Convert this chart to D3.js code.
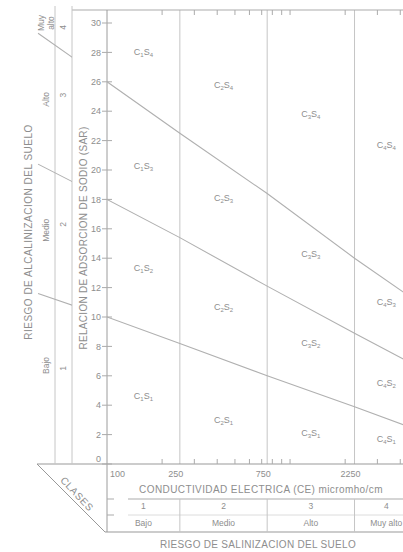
<!DOCTYPE html>
<html>
<head>
<meta charset="utf-8">
<script src="https://cdn.jsdelivr.net/npm/d3@7"></script>
<style>
  body { margin: 0; background: #fff; }
  svg { display: block; font-family: "Liberation Sans", Arial, sans-serif; }
</style>
</head>
<body>
<script>
//sodium adsorption ratio ticks (left axis)
var sarTicks = [0, 2, 4, 6, 8, 10, 12, 14, 16, 18, 20, 22, 24, 26, 28, 30];

//electrical conductivity class limits and labels (micromho/cm)
var ceBreaks = [100, 250, 750, 2250, 5000];
var ceLabels = ["100", "250", "750", "2250"];
var ceMinor = [200, 300, 400, 500, 600, 700, 800, 900, 1000, 2000, 3000, 4000];

//salinity classes (bottom table)
var salNum = ["1", "2", "3", "4"];
var salName = ["Bajo", "Medio", "Alto", "Muy alto"];

//sodium classes (left strip)
var sodNum = ["1", "2", "3", "4"];
var sodName = [["Bajo"], ["Medio"], ["Alto"], ["Muy", "alto"]];
var sodNameSar = [6.7, 15.9, 24.8, 30.0];
var sodNumSar = [6.5, 16.3, 25.1, 29.7];

//class boundary lines, SAR read at these CE values
var lineCE = [42, 100, 250, 750, 2250, 5000];
var boundS1S2 = [11.6, 10, 8.2, 6.0, 3.9, 2.3];
var boundS2S3 = [20.4, 18, 15.4, 12.1, 8.9, 6.6];
var boundS3S4 = [29.3, 26, 22.5, 18.4, 14.0, 11.0];

//zone labels C#S#: salinity class, sodium class, SAR where the label sits
var zoneC = [1, 1, 1, 1, 2, 2, 2, 2, 3, 3, 3, 3, 4, 4, 4, 4];
var zoneS = [4, 3, 2, 1, 4, 3, 2, 1, 4, 3, 2, 1, 4, 3, 2, 1];
var zoneSar = [27.8, 20.1, 13.1, 4.4, 25.6, 17.9, 10.5, 2.8, 23.6, 14.1, 8.0, 1.9, 21.5, 10.8, 5.3, 1.5];

var width = 403, height = 552;
var ink = "#8e8e8e", rule = "#ababab", faint = "#c6c6c6";

var svg = d3.select("body").append("svg")
  .attr("width", width)
  .attr("height", height);

var x = d3.scaleLog().domain([100, 5000]).range([107, 418]);
var y = d3.scaleLinear().domain([0, 30]).range([464, 23]);

var frameTop = 10, base = y(0), tableTop = 499, tableMid = 515, tableBot = 532;
var stripA = 55, stripB = 72, stripL = 37;

//clip areas: main plot and left sodium strip
var defs = svg.append("defs");
defs.append("clipPath").attr("id", "mainClip").append("rect")
  .attr("x", x(100)).attr("y", frameTop).attr("width", width - x(100)).attr("height", base - frameTop);
defs.append("clipPath").attr("id", "stripClip").append("rect")
  .attr("x", stripL).attr("y", 0).attr("width", stripB - stripL).attr("height", base);

//class limit verticals
svg.selectAll(".ceGrid")
  .data(ceBreaks.slice(1, 4))
  .enter().append("line")
  .attr("x1", function(d) { return x(d); }).attr("x2", function(d) { return x(d); })
  .attr("y1", frameTop).attr("y2", base)
  .attr("stroke", faint).attr("stroke-width", 1);

//top frame and minor log ticks
svg.append("line").attr("x1", stripB).attr("x2", width).attr("y1", frameTop).attr("y2", frameTop)
  .attr("stroke", rule);
svg.selectAll(".topTick")
  .data(ceMinor)
  .enter().append("line")
  .attr("x1", function(d) { return x(d); }).attr("x2", function(d) { return x(d); })
  .attr("y1", frameTop).attr("y2", frameTop + 5)
  .attr("stroke", rule);

//bottom axis + minor ticks
svg.append("line").attr("x1", stripL).attr("x2", width).attr("y1", base).attr("y2", base)
  .attr("stroke", "#999").attr("stroke-width", 1.2);
svg.selectAll(".botTick")
  .data(ceMinor)
  .enter().append("line")
  .attr("x1", function(d) { return x(d); }).attr("x2", function(d) { return x(d); })
  .attr("y1", base).attr("y2", base - 5)
  .attr("stroke", rule);

//left strip verticals
[stripA, stripB].forEach(function(px) {
  svg.append("line").attr("x1", px).attr("x2", px).attr("y1", 6).attr("y2", base)
    .attr("stroke", faint);
});

//SAR axis
svg.append("line").attr("x1", x(100)).attr("x2", x(100)).attr("y1", frameTop).attr("y2", tableBot)
  .attr("stroke", "#9c9c9c");
svg.selectAll(".sarTick")
  .data(sarTicks)
  .enter().append("line")
  .attr("x1", x(100) - 5).attr("x2", x(100) + 5)
  .attr("y1", function(d) { return y(d); }).attr("y2", function(d) { return y(d); })
  .attr("stroke", rule);
svg.selectAll(".sarLabel")
  .data(sarTicks)
  .enter().append("text")
  .attr("x", x(100) - 6)
  .attr("y", function(d) { return d === 0 ? y(d) - 5 : y(d); })
  .attr("dy", "0.35em")
  .attr("text-anchor", "end")
  .attr("font-size", 9)
  .attr("fill", ink)
  .text(function(d) { return d; });

//boundary lines, drawn in plot and again in left strip
var bounds = [boundS1S2, boundS2S3, boundS3S4];
var lineGen = d3.line()
  .x(function(d) { return x(d[0]); })
  .y(function(d) { return y(d[1]); });
["mainClip", "stripClip"].forEach(function(clip) {
  svg.append("g").attr("clip-path", "url(#" + clip + ")")
    .selectAll("path")
    .data(bounds)
    .enter().append("path")
    .attr("d", function(b) { return lineGen(lineCE.map(function(c, i) { return [c, b[i]]; })); })
    .attr("fill", "none")
    .attr("stroke", "#b0b0b0")
    .attr("stroke-width", 1.1);
});

//zone labels
function classMid(i) { return Math.sqrt(ceBreaks[i] * ceBreaks[i + 1]); }
var zones = svg.selectAll(".zone")
  .data(zoneC)
  .enter().append("text")
  .attr("x", function(d) { return x(classMid(d - 1)); })
  .attr("y", function(d, i) { return y(zoneSar[i]); })
  .attr("text-anchor", "middle")
  .attr("font-size", 9)
  .attr("fill", ink);
zones.each(function(d, i) {
  var t = d3.select(this);
  t.append("tspan").text("C");
  t.append("tspan").attr("font-size", 6).attr("dy", 2).text(d);
  t.append("tspan").attr("dy", -2).text("S");
  t.append("tspan").attr("font-size", 6).attr("dy", 2).text(zoneS[i]);
});

//axis titles
svg.append("text")
  .attr("transform", "translate(83," + 238 + ") rotate(-90)")
  .attr("dy", "0.35em").attr("text-anchor", "middle")
  .attr("font-size", 10).attr("letter-spacing", 0.3).attr("fill", ink)
  .text("RELACION DE ADSORCION DE SODIO (SAR)");
svg.append("text")
  .attr("transform", "translate(28," + 232 + ") rotate(-90)")
  .attr("dy", "0.35em").attr("text-anchor", "middle")
  .attr("font-size", 10).attr("letter-spacing", 0.5).attr("fill", ink)
  .text("RIESGO DE ALCALINIZACION DEL SUELO");

//sodium class labels in the strip
sodName.forEach(function(lines, i) {
  var t = svg.append("text")
    .attr("transform", "translate(" + (stripL + stripA) / 2 + "," + y(sodNameSar[i]) + ") rotate(-90)")
    .attr("text-anchor", "middle").attr("font-size", 8.5).attr("fill", ink);
  lines.forEach(function(w, j) {
    t.append("tspan").attr("x", 0)
      .attr("dy", j === 0 ? (lines.length > 1 ? "-0.2em" : "0.35em") : "1.1em")
      .text(w);
  });
  svg.append("text")
    .attr("transform", "translate(" + (stripA + stripB) / 2 + "," + y(sodNumSar[i]) + ") rotate(-90)")
    .attr("dy", "0.35em").attr("text-anchor", "middle").attr("font-size", 8.5).attr("fill", ink)
    .text(sodNum[i]);
});

//CE tick labels
svg.selectAll(".ceLabel")
  .data(ceLabels)
  .enter().append("text")
  .attr("x", function(d, i) { return i === 0 ? x(ceBreaks[i]) + 3 : x(ceBreaks[i]) - 4; })
  .attr("y", 474).attr("dy", "0.35em")
  .attr("text-anchor", function(d, i) { return i === 0 ? "start" : "middle"; })
  .attr("font-size", 9).attr("fill", ink)
  .text(function(d) { return d; });

svg.append("text")
  .attr("x", 261).attr("y", 489).attr("dy", "0.35em")
  .attr("text-anchor", "middle").attr("font-size", 10).attr("letter-spacing", 0.4).attr("fill", ink)
  .text("CONDUCTIVIDAD ELECTRICA (CE) micromho/cm");

//salinity class table
svg.append("line").attr("x1", 128).attr("x2", width).attr("y1", tableTop).attr("y2", tableTop).attr("stroke", rule);
svg.append("line").attr("x1", 128).attr("x2", width).attr("y1", tableMid).attr("y2", tableMid).attr("stroke", "#dcdcdc");
svg.append("line").attr("x1", 105).attr("x2", width).attr("y1", tableBot).attr("y2", tableBot).attr("stroke", "#999");
[tableTop, tableMid].forEach(function(py) {
  svg.append("line").attr("x1", x(100)).attr("x2", x(100) + 7).attr("y1", py).attr("y2", py).attr("stroke", rule);
});
svg.selectAll(".tableSep")
  .data(ceBreaks.slice(1, 4))
  .enter().append("line")
  .attr("x1", function(d) { return x(d); }).attr("x2", function(d) { return x(d); })
  .attr("y1", tableTop).attr("y2", tableBot)
  .attr("stroke", faint);
svg.selectAll(".salNum")
  .data(salNum)
  .enter().append("text")
  .attr("x", function(d, i) { return x(classMid(i)); })
  .attr("y", 506).attr("dy", "0.35em")
  .attr("text-anchor", "middle").attr("font-size", 8.5).attr("fill", ink)
  .text(function(d) { return d; });
svg.selectAll(".salName")
  .data(salName)
  .enter().append("text")
  .attr("x", function(d, i) { return x(classMid(i)); })
  .attr("y", 523).attr("dy", "0.35em")
  .attr("text-anchor", "middle").attr("font-size", 8.5).attr("fill", ink)
  .text(function(d) { return d; });

//perspective corner and CLASES
svg.append("line").attr("x1", stripL).attr("y1", base).attr("x2", 105).attr("y2", tableBot)
  .attr("stroke", "#999");
svg.append("text")
  .attr("transform", "translate(77,494) rotate(47)")
  .attr("dy", "0.35em").attr("text-anchor", "middle")
  .attr("font-size", 10).attr("letter-spacing", 0.6).attr("fill", ink)
  .text("CLASES");

svg.append("text")
  .attr("x", 258).attr("y", 544).attr("dy", "0.35em")
  .attr("text-anchor", "middle").attr("font-size", 10).attr("letter-spacing", 0.3).attr("fill", ink)
  .text("RIESGO DE SALINIZACION DEL SUELO");
</script>
</body>
</html>
